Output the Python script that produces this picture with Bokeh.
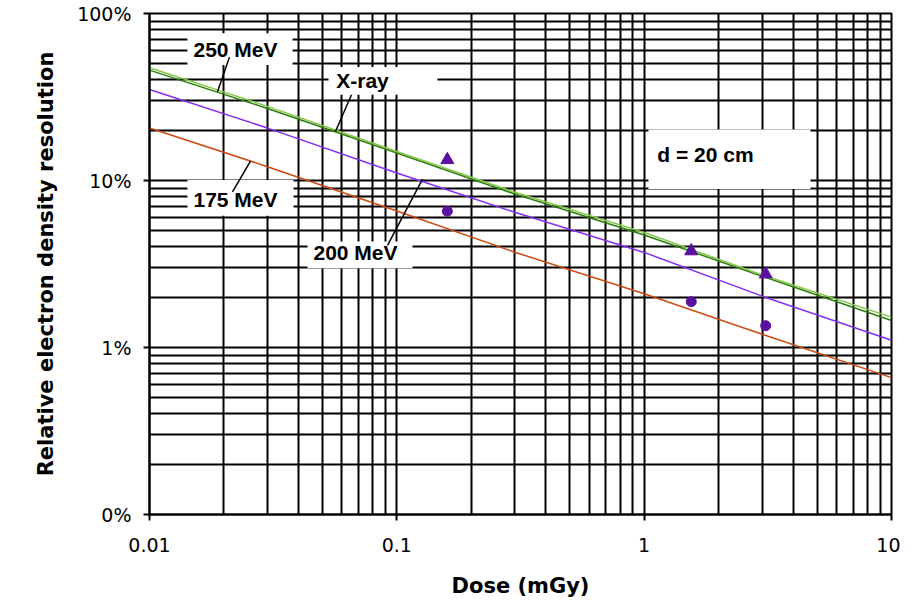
from bokeh.plotting import figure
from bokeh.models import FixedTicker, CustomJSTickFormatter, Label, BoxAnnotation, ColumnDataSource
from bokeh.embed import file_html
from bokeh.resources import INLINE

# ---- data ----
dose = [0.01, 0.03, 0.1, 0.3, 1, 3, 10]
res_xray = [47.3, 27.8, 14.9, 8.5, 4.88, 2.72, 1.52]
res_250 = [45.8, 27.0, 14.6, 8.3, 4.72, 2.67, 1.45]
res_200 = [35.1, 20.6, 11.1, 6.45, 3.71, 2.03, 1.105]
res_175 = [20.6, 12.1, 6.57, 3.72, 2.10, 1.20, 0.66]

meas_dose = [0.16, 1.55, 3.1]
meas_tri = [13.3, 3.78, 2.75]
meas_circ = [6.54, 1.88, 1.35]

x_tick_values = [0.01, 0.1, 1, 10]
x_tick_labels = ["0.01", "0.1", "1", "10"]
y_tick_values = [0.1, 1, 10, 100]
y_tick_labels = ["0%", "1%", "10%", "100%"]
x_minor = [m * d for d in (0.01, 0.1, 1) for m in range(2, 10)]
y_minor = [m * d for d in (0.1, 1, 10) for m in range(2, 10)]

TICK_FONT = "DejaVu Sans"
TITLE_FONT = "DejaVu Sans"
LABEL_FONT = "Liberation Sans"

p = figure(width=900, height=600, x_axis_type="log", y_axis_type="log",
           x_range=(0.01, 10), y_range=(0.1, 100),
           output_backend="svg", toolbar_location=None,
           min_border_left=149, min_border_right=9, min_border_top=13, min_border_bottom=82)
p.background_fill_color = "white"
p.border_fill_color = "white"
p.outline_line_color = "black"
p.outline_line_width = 2

xt = FixedTicker(ticks=x_tick_values, minor_ticks=x_minor)
yt = FixedTicker(ticks=y_tick_values, minor_ticks=y_minor)
p.xaxis.ticker = xt
p.yaxis.ticker = yt
p.xgrid.ticker = xt
p.ygrid.ticker = yt

fmt_code = """
let best = 0, bd = 1e9;
for (let i = 0; i < vals.length; i++) {
  const d = Math.abs(Math.log10(vals[i]) - Math.log10(tick));
  if (d < bd) { bd = d; best = i; }
}
return bd < 1e-6 ? labs[best] : "";
"""
p.xaxis.formatter = CustomJSTickFormatter(args=dict(vals=x_tick_values, labs=x_tick_labels), code=fmt_code)
p.yaxis.formatter = CustomJSTickFormatter(args=dict(vals=y_tick_values, labs=y_tick_labels), code=fmt_code)

for ax in (p.xaxis[0], p.yaxis[0]):
    ax.axis_line_color = "black"
    ax.axis_line_width = 2
    ax.major_tick_line_color = "black"
    ax.major_tick_line_width = 2
    ax.major_tick_in = 0
    ax.major_tick_out = 6
    ax.minor_tick_line_color = None
    ax.major_label_text_font = TICK_FONT
    ax.major_label_text_font_size = "19px"
    ax.major_label_text_color = "black"
    ax.axis_label_text_font = TITLE_FONT
    ax.axis_label_text_font_style = "bold"
    ax.axis_label_text_font_size = "21px"
    ax.axis_label_text_color = "black"

p.xaxis.axis_label = "Dose (mGy)"
p.yaxis.axis_label = "Relative electron density resolution"
p.xaxis.major_label_standoff = 17
p.xaxis.axis_label_standoff = 19
p.yaxis.major_label_standoff = 12
p.yaxis.axis_label_standoff = 16

p.grid.grid_line_color = "black"
p.grid.grid_line_width = 2
p.grid.grid_line_alpha = 1
p.grid.minor_grid_line_color = "black"
p.grid.minor_grid_line_width = 2

src = ColumnDataSource(dict(dose=dose, xray=res_xray, m250=res_250, m200=res_200, m175=res_175))
p.line("dose", "m175", source=src, line_color="#cc4a10", line_width=1.5)
p.line("dose", "m200", source=src, line_color="#8a2cf0", line_width=1.5)
p.line("dose", "m250", source=src, line_color="#2f7d12", line_width=1.5)
p.line("dose", "xray", source=src, line_color="#86c94a", line_width=1.5)

msrc = ColumnDataSource(dict(dose=meas_dose, tri=meas_tri, circ=meas_circ))
p.scatter("dose", "tri", source=msrc, marker="triangle", size=13, fill_color="#5b10a0", line_color="#5b10a0")
p.scatter("dose", "circ", source=msrc, marker="circle", size=10, fill_color="#5b10a0", line_color="#5b10a0")

# label boxes (white backgrounds interrupting the grid)
boxes = [
    (0.01424, 0.03787, 49.14, 76.07),   # 250 MeV
    (0.05293, 0.1460, 32.62, 47.81),    # X-ray
    (0.01424, 0.03822, 6.155, 10.07),   # 175 MeV
    (0.04354, 0.1157, 2.984, 4.315),    # 200 MeV
    (1.041, 4.704, 8.902, 20.21),       # d = 20 cm
]
for l, r, b, t in boxes:
    p.add_layout(BoxAnnotation(left=l, right=r, bottom=b, top=t, fill_color="white",
                               fill_alpha=1, line_color=None))

labels = [
    ("250 MeV", 0.02227, 61.15),
    ("X-ray", 0.07264, 39.48),
    ("175 MeV", 0.02227, 7.660),
    ("200 MeV", 0.06806, 3.712),
    ("d = 20 cm", 1.770, 14.36),
]
for txt, x, y in labels:
    p.add_layout(Label(x=x, y=y, text=txt, text_align="center", text_baseline="middle",
                       text_font=LABEL_FONT, text_font_style="bold", text_font_size="21px",
                       text_color="black"))

leaders = dict(
    x0=[0.02106, 0.06557, 0.02165, 0.09169],
    y0=[54.8, 32.62, 8.547, 4.087],
    x1=[0.01883, 0.05649, 0.02561, 0.1270],
    y1=[33.98, 19.67, 13.05, 10.2],
)
seg = p.segment("x0", "y0", "x1", "y1", source=ColumnDataSource(leaders), line_color="black", line_width=1.5)
seg.level = "overlay"

open("out.html", "w").write(file_html(p, INLINE))
